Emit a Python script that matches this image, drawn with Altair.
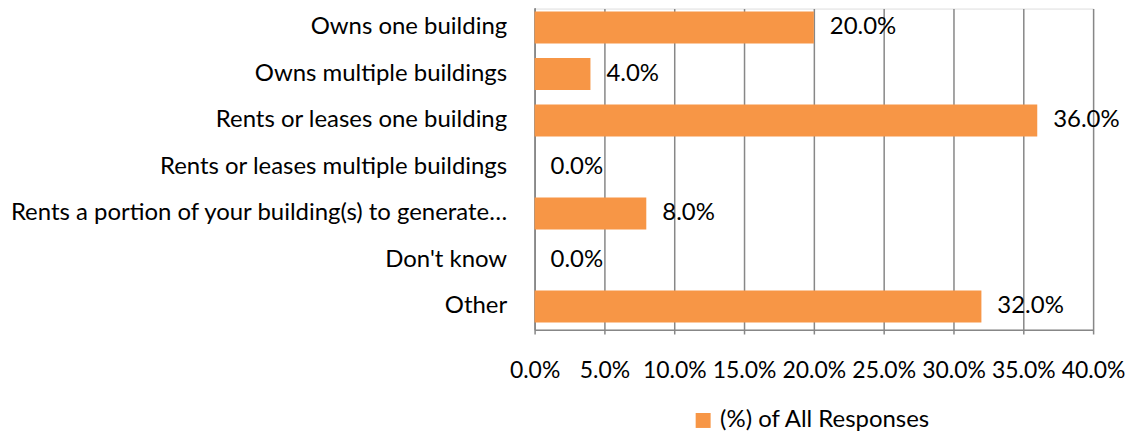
import altair as alt
import pandas as pd

categories = [
    "Owns one building",
    "Owns multiple buildings",
    "Rents or leases one building",
    "Rents or leases multiple buildings",
    "Rents a portion of your building(s) to generate…",
    "Don't know",
    "Other",
]
values = [0.20, 0.04, 0.36, 0.0, 0.08, 0.0, 0.32]
series_name = "(%) of All Responses"
x_ticks = [0.0, 0.05, 0.10, 0.15, 0.20, 0.25, 0.30, 0.35, 0.40]

df = pd.DataFrame({"category": categories, "value": values, "series": [series_name] * len(categories)})

FONT = "Lato"
FS = 23
FS_CAT = 24
ORANGE = "#F79646"
GRID = "#878787"

y_enc = alt.Y(
    "category:N",
    sort=categories,
    scale=alt.Scale(range=[-4.33, 322], paddingInner=0.314, paddingOuter=0.157),
    axis=alt.Axis(
        title=None,
        labelFont=FONT,
        labelFontSize=FS_CAT,
        labelColor="#000000",
        labelLimit=600,
        labelPadding=28,
        ticks=False,
        domainColor=GRID,
        domainWidth=1.5,
        grid=False,
    ),
)
x_enc = alt.X(
    "value:Q",
    scale=alt.Scale(domain=[0, 0.4], nice=False),
    axis=alt.Axis(
        title=None,
        values=x_ticks,
        format=".1%",
        labelFont=FONT,
        labelFontSize=FS,
        labelColor="#000000",
        labelPadding=30,
        ticks=False,
        domainColor=GRID,
        domainWidth=1.5,
        grid=True,
        gridColor=GRID,
        gridWidth=1.5,
        labelOverlap=False,
        labelFlush=False,
    ),
)

bars = alt.Chart(df).mark_bar(color=ORANGE).encode(
    y=y_enc,
    x=x_enc,
    color=alt.Color(
        "series:N",
        scale=alt.Scale(domain=[series_name], range=[ORANGE]),
        legend=alt.Legend(
            title=None,
            orient="none",
            legendX=157,
            legendY=401,
            symbolType="square",
            symbolSize=225,
            symbolStrokeWidth=0,
            labelFont=FONT,
            labelFontSize=FS_CAT,
            labelColor="#000000",
            labelLimit=400,
            padding=0,
            labelOffset=5,
        ),
    ),
)

labels = alt.Chart(df).mark_text(
    align="left", baseline="middle", dx=16, font=FONT, fontSize=FS_CAT, color="#000000"
).encode(
    y=alt.Y("category:N", sort=categories),
    x=alt.X("value:Q"),
    text=alt.Text("value:Q", format=".1%"),
)

chart = (
    alt.layer(bars, labels)
    .properties(
        width=560,
        height=322,
        autosize="none",
        padding={"left": 528, "top": 0, "right": 40, "bottom": 106},
    )
    .configure_view(stroke=None)
    .configure(background="white")
)

chart.save("out.html", embed_options={"renderer": "svg", "actions": False})
